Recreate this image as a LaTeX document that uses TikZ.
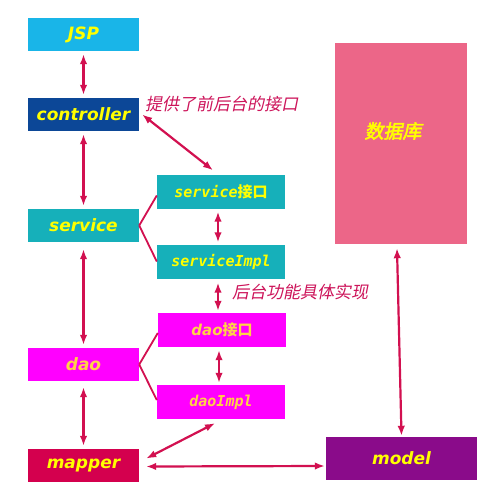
\documentclass[tikz,border=0pt]{standalone}
\usepackage{fontspec}
\setmainfont{DejaVu Sans}
\newfontfamily\monobi{DejaVu Sans Mono}
\newfontfamily\cjk{Noto Sans CJK SC}
\newfontfamily\cjkit[FakeSlant=0.2]{Noto Sans CJK SC}
\newfontfamily\cjkbi[FakeSlant=0.2,FakeBold=2.5]{Noto Sans CJK SC}
\usetikzlibrary{arrows.meta,calc}
\definecolor{cjsp}{RGB}{25,181,232}
\definecolor{cctrl}{RGB}{12,71,151}
\definecolor{csvc}{RGB}{22,176,186}
\definecolor{cdao}{RGB}{255,0,255}
\definecolor{cmap}{RGB}{212,0,78}
\definecolor{cdb}{RGB}{236,102,136}
\definecolor{cmodel}{RGB}{138,11,138}
\definecolor{carr}{RGB}{210,16,80}
\definecolor{clab}{RGB}{205,20,90}
\definecolor{cyel}{RGB}{255,255,0}
\definecolor{corg}{RGB}{255,210,70}
\tikzset{
  mainbox/.style={inner sep=0pt, minimum width=111pt, minimum height=33pt, text=cyel,
     font=\fontsize{17}{17}\selectfont\bfseries\itshape},
  subbox/.style={inner sep=0pt, minimum width=128pt, minimum height=34pt, text=cyel,
     font=\fontsize{15}{15}\selectfont\monobi\bfseries\itshape},
  arr/.style={draw=carr, line width=2.2pt, {Latex[length=10pt,width=7.5pt]}-{Latex[length=10pt,width=7.5pt]}},
  link/.style={draw=carr, line width=1.8pt},
  lab/.style={text=clab, font=\fontsize{17}{17}\selectfont\cjkit, anchor=west, inner sep=0pt}
}
\begin{document}
\begin{tikzpicture}[x=1pt,y=-1pt]
\useasboundingbox (0,0) rectangle (500,500);
\fill[white] (0,0) rectangle (500,500);
\node[mainbox, fill=cjsp] (jsp) at (83.5,34.5) {JSP};
\node[mainbox, fill=cctrl] (ctrl) at (83.5,114.5) {controller};
\node[mainbox, fill=csvc] (svc) at (83.5,225.5) {service};
\node[mainbox, fill=cdao, text=corg] (dao) at (83.5,364.5) {dao};
\node[mainbox, fill=cmap] (mapper) at (83.5,465.5) {mapper};
\node[subbox, fill=csvc] (svcif) at (221,191.5) {service{\cjk\bfseries 接口}};
\node[subbox, fill=csvc] (svcimpl) at (221,261.5) {serviceImpl};
\node[subbox, fill=cdao, text=corg, font=\fontsize{15}{15}\selectfont\bfseries\itshape] (daoif) at (222,330) {dao{\cjk 接口}};
\node[subbox, fill=cdao, text=corg] (daoimpl) at (221,402) {daoImpl};
\node[fill=cdb, inner sep=0pt, minimum width=132pt, minimum height=201pt] (db) at (401,143.5) {};
\node[text=cyel, font=\fontsize{19}{19}\selectfont\cjkbi] (dbt) at (393,131) {数据库};
\node[mainbox, fill=cmodel, minimum width=151pt, minimum height=43pt] (model) at (401.5,458.5) {model};
\node[lab] (l1) at (145,104) {提供了前后台的接口};
\node[lab] (l2) at (232,292) {后台功能具体实现};
\draw[arr, shorten <=3pt, shorten >=3pt] (jsp.south) -- (ctrl.north);
\draw[arr, shorten <=3pt, shorten >=3pt] (ctrl.south) -- (svc.north);
\draw[arr, shorten <=7pt, shorten >=3pt] (svc.south) -- (dao.north);
\draw[arr, shorten <=6pt, shorten >=3pt] (dao.south) -- (mapper.north);
\draw[arr] ($(ctrl.east)+(3,0)$) -- ($(svcif.north)+(-8,-4)$);
\draw[arr, shorten <=3pt, shorten >=2pt] ($(svcif.south)+(-3,0)$) -- ($(svcimpl.north)+(-3,0)$);
\draw[arr, shorten <=4pt, shorten >=2pt] ($(svcimpl.south)+(-3,0)$) -- ($(daoif.north)+(-4,0)$);
\draw[arr, shorten <=3pt, shorten >=2pt] ($(daoif.south)+(-3,0)$) -- ($(daoimpl.north)+(-2,0)$);
\draw[link] (svc.east) -- ($(svcif.west)+(0,4)$);
\draw[link] (svc.east) -- ($(svcimpl.west)+(0,0)$);
\draw[link] (dao.east) -- ($(daoif.west)+(0,3)$);
\draw[link] (dao.east) -- ($(daoimpl.west)+(0,-2)$);
\draw[arr] ($(daoimpl.south)+(-6,4)$) -- ($(mapper.east)+(7,-7)$);
\draw[arr] ($(mapper.east)+(7,1)$) -- ($(model.west)+(-1,7.5)$);
\draw[arr] ($(db.south)+(-4,4)$) -- ($(model.north)+(0,-1)$);
\end{tikzpicture}
\end{document}
